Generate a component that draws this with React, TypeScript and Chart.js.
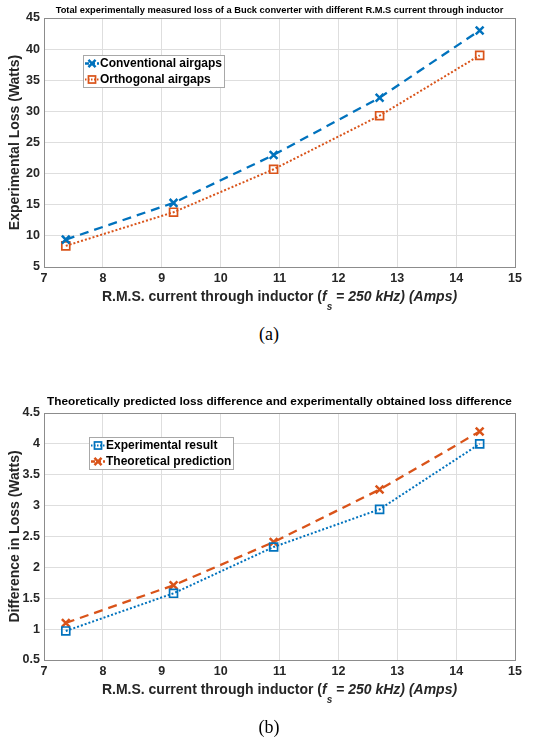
import React, { useEffect, useRef } from 'react';
import { Chart, registerables } from 'chart.js';

Chart.register(...registerables);

const FONT = '"Liberation Sans", Arial, Helvetica, sans-serif';
const SERIF = '"Liberation Serif", "Times New Roman", Times, serif';
const BLUE = '#0072BD';
const ORANGE = '#D95319';
const GRID = '#dedede';
const FRAME = '#8c8c8c';
const TICK = '#262626';

// ---- data ----
const rmsCurrent = [7.37, 9.2, 10.9, 12.7, 14.4];
const conventionalLoss = [9.4, 15.3, 23.0, 32.2, 43.0];
const orthogonalLoss = [8.4, 13.8, 20.7, 29.3, 39.0];
const experimentalDiff = [0.97, 1.58, 2.33, 2.94, 4.0];
const theoreticalDiff = [1.1, 1.71, 2.41, 3.26, 4.2];

const xTicks = [7, 8, 9, 10, 11, 12, 13, 14, 15];
const yTicksA = [5, 10, 15, 20, 25, 30, 35, 40, 45];
const yTicksB = [0.5, 1, 1.5, 2, 2.5, 3, 3.5, 4, 4.5];

const titleA =
  'Total experimentally measured loss of a Buck converter with different R.M.S current through inductor';
const titleB =
  'Theoretically predicted loss difference and experimentally obtained loss difference';
const yTitleA = 'Experimental Loss (Watts)';
const yTitleB = 'Difference in Loss (Watts)';
const xTitleParts = [
  { text: 'R.M.S. current through inductor (', italic: false, sub: false },
  { text: 'f', italic: true, sub: false },
  { text: 's', italic: true, sub: true },
  { text: ' = 250 kHz) (Amps)', italic: true, sub: false },
];

const toPoints = (xs: number[], ys: number[]) => xs.map((x, i) => ({ x, y: ys[i] }));

// ---- plugins ----
const framePlugin = {
  id: 'frame',
  afterLayout(chart: any) {
    // centre the title over the plot area, as in the original figure
    const t = chart.titleBlock;
    if (t) {
      t.left = chart.chartArea.left;
      t.right = chart.chartArea.right;
    }
  },
  beforeDatasetsDraw(chart: any) {
    const { ctx, chartArea: a } = chart;
    ctx.save();
    ctx.strokeStyle = FRAME;
    ctx.lineWidth = 1;
    ctx.strokeRect(
      Math.round(a.left) + 0.5,
      Math.round(a.top) + 0.5,
      Math.round(a.right - a.left),
      Math.round(a.bottom - a.top)
    );
    ctx.restore();
  },
};

function makeXTitlePlugin(offset: number, subOffset: number) {
  return {
    id: 'xTitleMixed',
    afterDraw(chart: any) {
      const { ctx, chartArea: a } = chart;
      const fontFor = (p: any) => `${p.italic ? 'italic ' : ''}bold ${p.sub ? 10 : 14}px ${FONT}`;
      ctx.save();
      let total = 0;
      const widths = xTitleParts.map((p) => {
        ctx.font = fontFor(p);
        const w = ctx.measureText(p.text).width;
        total += w;
        return w;
      });
      let x = (a.left + a.right) / 2 - total / 2;
      const y = a.bottom + offset;
      ctx.fillStyle = TICK;
      ctx.textBaseline = 'middle';
      ctx.textAlign = 'left';
      xTitleParts.forEach((p, i) => {
        ctx.font = fontFor(p);
        ctx.fillText(p.text, x, p.sub ? y + subOffset : y);
        x += widths[i];
      });
      ctx.restore();
    },
  };
}

function drawMarker(ctx: CanvasRenderingContext2D, ds: any, x: number, y: number) {
  ctx.save();
  ctx.setLineDash([]);
  ctx.strokeStyle = ds.borderColor;
  ctx.lineWidth = ds.pointBorderWidth;
  const r = ds.pointRadius;
  if (ds.pointStyle === 'crossRot') {
    const o = r * Math.SQRT1_2;
    ctx.beginPath();
    ctx.moveTo(x - o, y - o);
    ctx.lineTo(x + o, y + o);
    ctx.moveTo(x - o, y + o);
    ctx.lineTo(x + o, y - o);
    ctx.stroke();
  } else {
    const s = r * Math.SQRT1_2;
    ctx.strokeRect(x - s, y - s, 2 * s, 2 * s);
  }
  ctx.restore();
}

function makeLegendPlugin(dx: number, dy: number) {
  return {
    id: 'insideLegend',
    afterDatasetsDraw(chart: any) {
      const { ctx, chartArea: a } = chart;
      const datasets = chart.data.datasets;
      const x0 = Math.round(a.left + dx);
      const y0 = Math.round(a.top + dy);
      ctx.save();
      ctx.font = `bold 12px ${FONT}`;
      const maxW = Math.max(...datasets.map((d: any) => ctx.measureText(d.label).width));
      const w = Math.round(17 + maxW + 2);
      const rowH = 16;
      const h = rowH * datasets.length;
      ctx.fillStyle = '#ffffff';
      ctx.fillRect(x0, y0, w, h);
      ctx.strokeStyle = '#a8a8a8';
      ctx.lineWidth = 1;
      ctx.strokeRect(x0 + 0.5, y0 + 0.5, w, h);
      datasets.forEach((d: any, i: number) => {
        const cy = y0 + 8.5 + i * rowH;
        ctx.save();
        ctx.strokeStyle = d.borderColor;
        ctx.lineWidth = d.borderWidth;
        ctx.setLineDash(d.borderDash && d.borderDash[0] < 4 ? [1.5, 1.5] : [4, 2]);
        ctx.beginPath();
        ctx.moveTo(x0 + 2, cy);
        ctx.lineTo(x0 + 16, cy);
        ctx.stroke();
        ctx.restore();
        drawMarker(ctx, { ...d, pointRadius: 5 }, x0 + 9, cy);
        ctx.fillStyle = '#000000';
        ctx.textBaseline = 'middle';
        ctx.textAlign = 'left';
        ctx.fillText(d.label, x0 + 17, cy + 0.5);
      });
      ctx.restore();
    },
  };
}

function dashedSeries(label: string, color: string, ys: number[]) {
  return {
    label,
    data: toPoints(rmsCurrent, ys),
    borderColor: color,
    backgroundColor: color,
    borderWidth: 2.3,
    borderDash: [9, 6],
    pointStyle: 'crossRot',
    pointRadius: 5.5,
    pointBorderWidth: 2.5,
    pointBorderColor: color,
    pointBackgroundColor: 'rgba(0,0,0,0)',
    tension: 0,
    fill: false,
  };
}

function dottedSeries(label: string, color: string, ys: number[]) {
  return {
    label,
    data: toPoints(rmsCurrent, ys),
    borderColor: color,
    backgroundColor: color,
    borderWidth: 2,
    borderDash: [2, 2],
    pointStyle: 'rect',
    pointRadius: 5.6,
    pointBorderWidth: 1.7,
    pointBorderColor: color,
    pointBackgroundColor: 'rgba(0,0,0,0)',
    tension: 0,
    fill: false,
  };
}

function makeConfig(p: any): any {
  const tickFont = { family: FONT, size: 12.5, weight: 'bold' as const, lineHeight: 1.2 };
  return {
    type: 'line',
    data: { datasets: p.datasets },
    options: {
      responsive: false,
      animation: false,
      events: [],
      layout: { padding: { left: 0, right: 28, top: 0, bottom: 0 } },
      plugins: {
        legend: { display: false },
        tooltip: { enabled: false },
        title: {
          display: true,
          text: p.title,
          color: '#000000',
          font: { family: FONT, size: p.titleSize, weight: 'bold', lineHeight: 1.2 },
          padding: { top: p.titleTop, bottom: p.titleBottom },
        },
      },
      scales: {
        x: {
          type: 'linear',
          min: 7,
          max: 15,
          afterBuildTicks: (s: any) => {
            s.ticks = xTicks.map((v) => ({ value: v }));
          },
          afterFit: (s: any) => {
            s.height = p.xAxisHeight;
          },
          grid: { color: GRID, drawTicks: false, lineWidth: 1 },
          border: { display: false },
          ticks: {
            color: TICK,
            font: tickFont,
            padding: 4.5,
            maxRotation: 0,
            autoSkip: false,
            callback: (v: any) => String(v),
          },
        },
        y: {
          type: 'linear',
          min: p.yTicks[0],
          max: p.yTicks[p.yTicks.length - 1],
          afterBuildTicks: (s: any) => {
            s.ticks = p.yTicks.map((v: number) => ({ value: v }));
          },
          afterFit: (s: any) => {
            s.width = 44;
          },
          grid: { color: GRID, drawTicks: false, lineWidth: 1 },
          border: { display: false },
          title: {
            display: true,
            text: p.yTitle,
            color: TICK,
            font: { family: FONT, size: 14, weight: 'bold', lineHeight: 1.2 },
            padding: { top: 7, bottom: 0 },
          },
          ticks: {
            color: TICK,
            font: tickFont,
            padding: 4,
            autoSkip: false,
            callback: (v: any) => String(v),
          },
        },
      },
    },
    plugins: [framePlugin, makeXTitlePlugin(30, 10), makeLegendPlugin(p.legendDx, p.legendDy)],
  };
}

function ChartCanvas({ config, width, height }: { config: any; width: number; height: number }) {
  const ref = useRef<HTMLCanvasElement | null>(null);
  useEffect(() => {
    if (!ref.current) return;
    const chart = new Chart(ref.current, config);
    return () => chart.destroy();
  }, [config]);
  return <canvas ref={ref} width={width} height={height} style={{ display: 'block', width, height }} />;
}

const configA = makeConfig({
  title: titleA,
  titleSize: 9.3,
  titleTop: 4.4,
  titleBottom: 2.44,
  yTitle: yTitleA,
  yTicks: yTicksA,
  xAxisHeight: 53,
  legendDx: 39,
  legendDy: 37,
  datasets: [
    dashedSeries('Conventional airgaps', BLUE, conventionalLoss),
    dottedSeries('Orthogonal airgaps', ORANGE, orthogonalLoss),
  ],
});

const configB = makeConfig({
  title: titleB,
  titleSize: 11.8,
  titleTop: 4.9,
  titleBottom: 3.94,
  yTitle: yTitleB,
  yTicks: yTicksB,
  xAxisHeight: 60,
  legendDx: 45,
  legendDy: 24,
  datasets: [
    dottedSeries('Experimental result', BLUE, experimentalDiff),
    dashedSeries('Theoretical prediction', ORANGE, theoreticalDiff),
  ],
});

const captionStyle: React.CSSProperties = {
  position: 'absolute',
  left: 0,
  width: 538,
  textAlign: 'center',
  fontFamily: SERIF,
  fontSize: 18,
  lineHeight: '20px',
  color: '#000',
};

export default function App() {
  return (
    <div style={{ position: 'absolute', left: 0, top: 0, width: 543, height: 738, background: '#fff' }}>
      <div style={{ position: 'absolute', left: 0, top: 0 }}>
        <ChartCanvas config={configA} width={543} height={320} />
      </div>
      <div style={{ ...captionStyle, top: 324 }}>(a)</div>
      <div style={{ position: 'absolute', left: 0, top: 390 }}>
        <ChartCanvas config={configB} width={543} height={330} />
      </div>
      <div style={{ ...captionStyle, top: 717 }}>(b)</div>
    </div>
  );
}
